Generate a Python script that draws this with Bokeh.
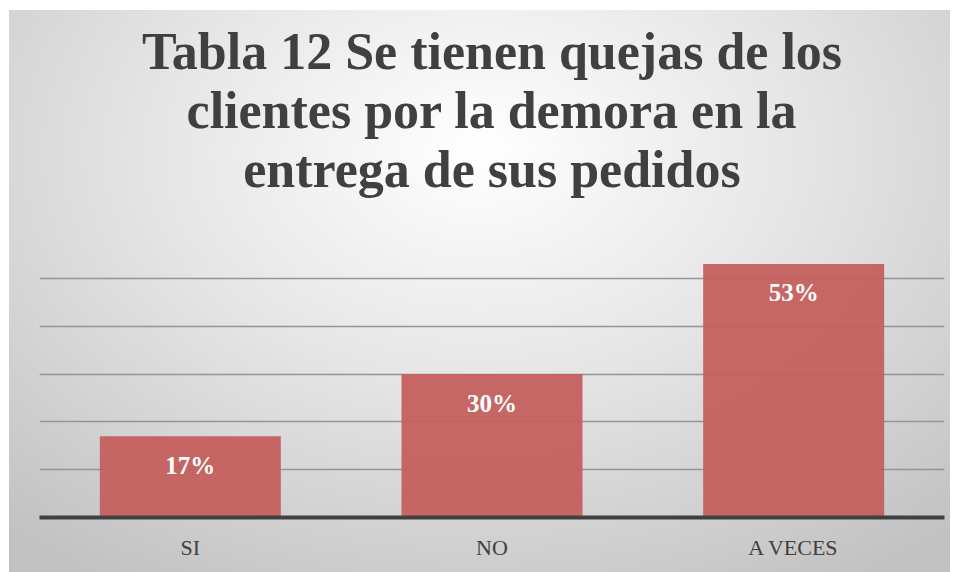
from bokeh.plotting import figure
from bokeh.models import ColumnDataSource, LabelSet, Range1d, Title
from bokeh.embed import file_html
from bokeh.resources import INLINE

categories = ["SI", "NO", "A VECES"]
values = [17, 30, 53]
labels = ["17%", "30%", "53%"]
title_lines = ["Tabla 12 Se tienen quejas de los", "clientes por la demora en la", "entrega de sus pedidos"]

src = ColumnDataSource(dict(cat=categories, val=values, lab=labels))

p = figure(x_range=categories, y_range=Range1d(0, 60), width=941, height=562, title=None,
           output_backend="svg", toolbar_location=None,
           min_border_left=30, min_border_right=6, min_border_top=220, min_border_bottom=55)

p.styles = {"margin-left": "9px", "margin-top": "10px",
            "background-image": "radial-gradient(ellipse 75% 90% at 50% 25%, #ffffff 0%, #e6e6e6 45%, #c2c2c2 100%)"}
p.background_fill_color = None
p.border_fill_color = None
p.outline_line_color = None

# spacer between the plot area and the title block
p.add_layout(Title(text=" ", text_font_size="1px", standoff=30), "above")
# first added sits nearest the plot area
for line in reversed(title_lines):
    t = Title(text=line, align="center", text_font="Liberation Serif", text_font_style="bold",
              text_font_size="52px", text_color="#404040", standoff=0)
    p.add_layout(t, "above")

p.vbar(x="cat", top="val", width=0.6, source=src, fill_color="#C4605E", fill_alpha=0.95, line_color=None)

lbl = LabelSet(x="cat", y="val", text="lab", source=src, text_align="center", text_baseline="middle",
               y_offset=-29, text_color="white", text_font="Liberation Serif", text_font_style="bold",
               text_font_size="25px")
p.add_layout(lbl)

p.yaxis.visible = False
p.ygrid.grid_line_color = "#959595"
p.ygrid.grid_line_width = 1.6
p.ygrid.ticker = [10, 20, 30, 40, 50]
p.xgrid.grid_line_color = None

p.xaxis.axis_line_width = 4
p.xaxis.axis_line_color = "#404040"
p.xaxis.major_tick_line_color = None
p.xaxis.minor_tick_line_color = None
p.xaxis.major_label_text_font = "Liberation Serif"
p.xaxis.major_label_text_font_size = "22px"
p.xaxis.major_label_text_color = "#404040"
p.xaxis.major_label_standoff = 11
p.x_range.range_padding = 0

open("out.html", "w").write(file_html(p, INLINE))
